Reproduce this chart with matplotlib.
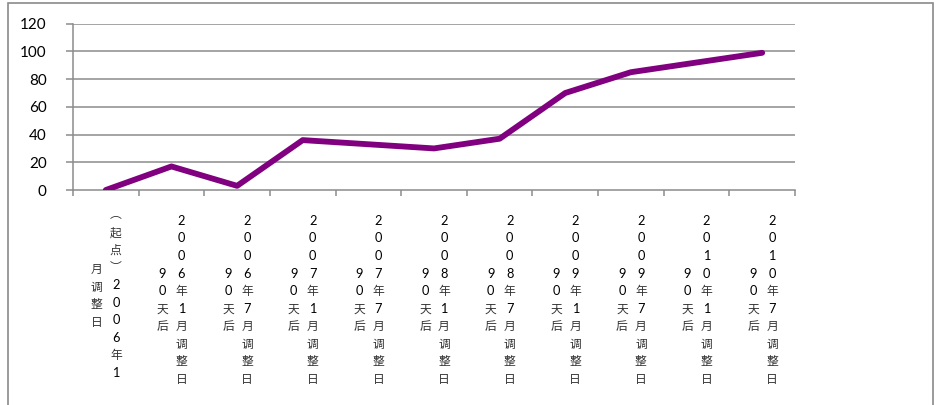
import matplotlib
matplotlib.use("Agg")
import matplotlib.pyplot as plt
from matplotlib.patches import Rectangle
from matplotlib import transforms

plt.rcParams['font.family'] = ['Lato', 'Noto Sans CJK SC', 'DejaVu Sans']

# Stacked vertical category labels: (main column, secondary column)
label_main = ["︵起点︶2006年1", "2006年1月调整日", "2006年7月调整日", "2007年1月调整日",
              "2007年7月调整日", "2008年1月调整日", "2008年7月调整日", "2009年1月调整日",
              "2009年7月调整日", "2010年1月调整日", "2010年7月调整日"]
label_side = ["月调整日", "90天后", "90天后", "90天后", "90天后", "90天后",
              "90天后", "90天后", "90天后", "90天后", "90天后"]
values = [0, 17, 3, 36, 33, 30, 37, 70, 85, 92, 99]
yticks = [0, 20, 40, 60, 80, 100, 120]

W, H = 942, 405
fig = plt.figure(figsize=(W / 100, H / 100), dpi=100)
fig.patch.set_facecolor('white')

# outer chart frame
fig.add_artist(Rectangle((8 / W, -0.05), (933 - 8) / W, 1.05 - 3 / H,
                         transform=fig.transFigure, fill=False,
                         edgecolor='#8a8a8a', linewidth=1.2))

left, right, top, bottom = 73, 795, 23.7, 190
ax = fig.add_axes([left / W, 1 - bottom / H, (right - left) / W, (bottom - top) / H])

grid_c = '#8c8c8c'
n = len(values)
x = list(range(n))
ax.plot(x, values, color='#800080', linewidth=4.2, solid_capstyle='round',
        solid_joinstyle='round', zorder=3)

ax.set_xlim(-0.5, n - 0.5)
ax.set_ylim(0, 120)
ax.set_yticks(yticks)
ax.set_yticklabels([str(v) for v in yticks], fontsize=11)
ax.set_xticks([i - 0.5 for i in range(n + 1)])
ax.set_xticklabels([])
for v in yticks[1:]:
    ax.axhline(v, color=grid_c, linewidth=1.1, zorder=1)

for s in ['top', 'right']:
    ax.spines[s].set_visible(False)
for s in ['left', 'bottom']:
    ax.spines[s].set_color(grid_c)
    ax.spines[s].set_linewidth(1.1)
ax.tick_params(axis='y', length=5, width=1.1, color=grid_c, pad=14, labelcolor='black')
ax.tick_params(axis='x', length=4, width=1.1, color=grid_c)

# stacked vertical category text, characters placed one per row
trans = transforms.blended_transform_factory(ax.transData, fig.transFigure)
pitch = 17.6
center_y = 300

def draw_column(xc, text, cy):
    k = len(text)
    y0 = cy - pitch * (k - 1) / 2
    for j, ch in enumerate(text):
        yp = y0 + j * pitch
        is_digit = ch.isascii()
        ax.text(xc, 1 - yp / H, ch, transform=trans, ha='center', va='center',
                fontsize=9.2 if is_digit else 8.5,
                color='black' if is_digit else '#333333', clip_on=False)

unit = (right - left) / n
for i in range(n):
    draw_column(i + 10 / unit, label_main[i], center_y - (6 if i == 0 else 0))
    draw_column(i - 9 / unit, label_side[i], center_y - (4 if i == 0 else 0))

fig.savefig('out.png', dpi=100, facecolor='white')
